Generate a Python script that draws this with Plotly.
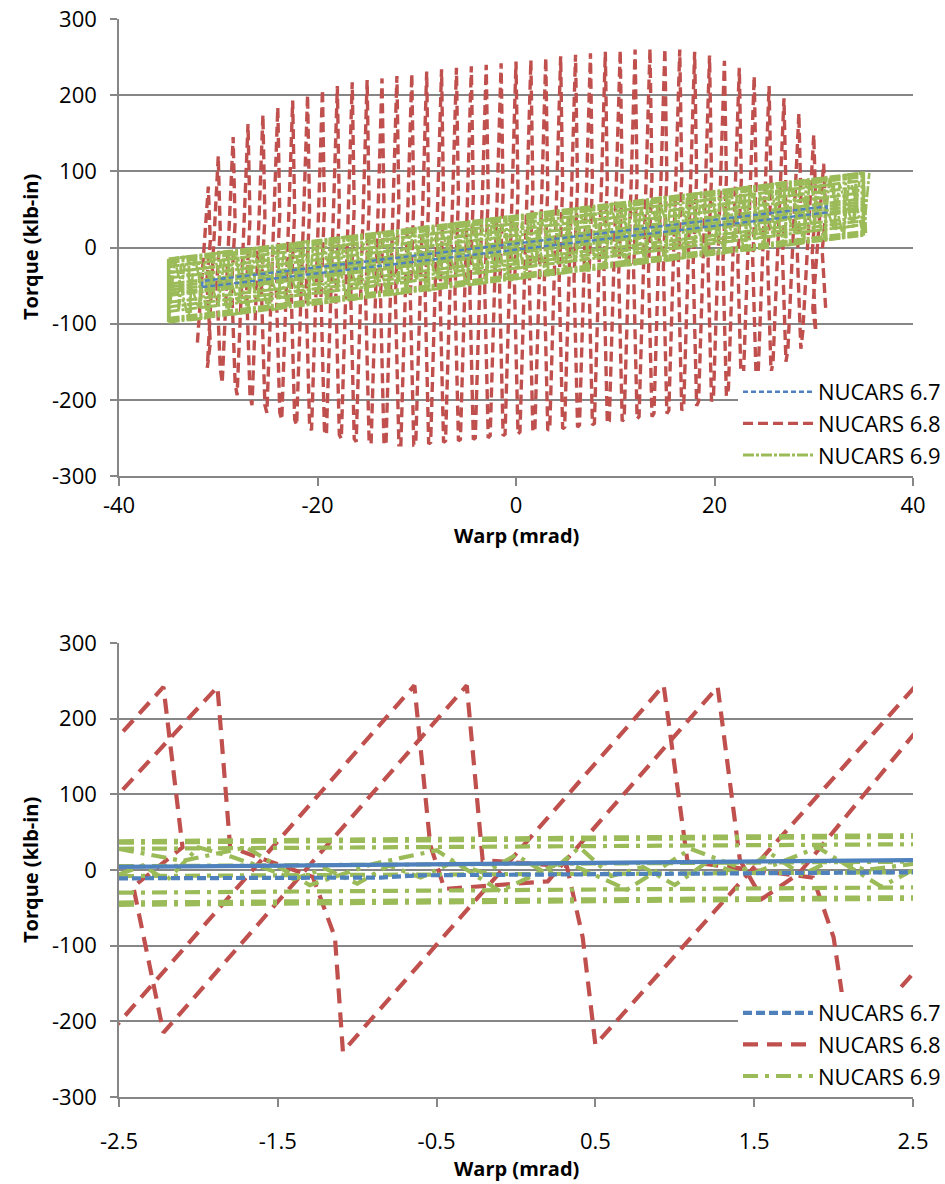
import plotly.graph_objects as go

RED = "#C0504D"
BLUE = "#4F81BD"
GREEN = "#9BBB59"
GRID = "#868686"
FONT = "Open Sans"

# ====================== TOP CHART (full warp range) ======================
top_xticks = [-40, -20, 0, 20, 40]
top_xtext = ["-40", "-20", "0", "20", "40"]
yticks = [-300, -200, -100, 0, 100, 200, 300]
ytext = ["-300", "-200", "-100", "0", "100", "200", "300"]

# NUCARS 6.8 : stick-slip columns (peak warp, upper / lower torque envelope)
red_col_warp = [-31, -30, -28.5, -27, -25.5, -24, -22.5, -21, -19.5, -18, -16.5, -15, -13.5, -12,
                -10.5, -9, -7.5, -6, -4.5, -3, -1.5, 0, 1.5, 3, 4.5, 6, 7.5, 9, 10.5, 12, 13.5,
                15, 16.5, 18, 19.5, 21, 22.5, 24, 25.5, 27, 28.5, 30, 31]
red_col_top = [80, 120, 145, 162, 174, 184, 193, 200, 207, 212, 217, 220, 222, 225, 228, 231, 234,
               236, 238, 240, 242, 244, 246, 249, 251, 253, 255, 257, 259, 260, 261, 261, 260, 257,
               252, 245, 236, 225, 212, 196, 176, 148, 110]
red_col_bot = [-125, -158, -178, -194, -207, -217, -226, -233, -240, -246, -251, -255, -258, -259,
               -259, -258, -256, -254, -252, -250, -247, -245, -242, -240, -238, -236, -233, -231,
               -228, -225, -222, -218, -214, -208, -202, -195, -186, -176, -165, -150, -133, -110, -80]
red_rise = 1.1     # warp advance during torque build-up (mrad)
red_slip = 0.2     # warp advance during slip (mrad)
red_jog = 0.35     # lateral wobble during slip (mrad)

# NUCARS 6.9 : band columns (warp, upper / lower torque)
green_col_warp = [-35, -33, -31, -29, -27, -25, -23, -21, -19, -17, -15, -13, -11, -9, -7, -5, -3, -1,
                  1, 3, 5, 7, 9, 11, 13, 15, 17, 19, 21, 23, 25, 27, 29, 31, 33, 35]
green_col_top = [-15, -12, -9, -5, -2, 1, 4, 8, 11, 14, 17, 20, 24, 27, 30, 33, 37, 40, 43, 46, 49,
                 53, 56, 59, 62, 66, 69, 72, 75, 78, 82, 85, 88, 91, 95, 98]
green_col_bot = [-98, -95, -92, -88, -85, -82, -78, -75, -72, -69, -65, -62, -59, -56, -52, -49, -46,
                 -43, -39, -36, -33, -30, -26, -23, -20, -17, -13, -10, -7, -4, 0, 3, 6, 10, 13, 16]
green_core_warp = [-34, -32, -30, -28, -26, -24, -22, -20, -18, -16, -14, -12, -10, -8, -6, -4, -2, 0,
                   2, 4, 6, 8, 10, 12, 14, 16, 18, 20, 22, 24, 26, 28, 30, 32, 34]
green_core_top = [-23, -20, -17, -14, -10, -7, -4, -1, 2, 6, 9, 12, 15, 19, 22, 25, 28, 32, 35, 38,
                  41, 44, 48, 51, 54, 57, 61, 64, 67, 70, 74, 77, 80, 83, 87]
green_core_bot = [-82, -79, -76, -73, -69, -66, -63, -60, -56, -53, -50, -47, -43, -40, -37, -34, -30,
                  -27, -24, -20, -17, -14, -11, -7, -4, -1, 2, 6, 9, 12, 15, 19, 22, 25, 28]
# straight passes across the band: torque at warp -35 and at warp +35
green_pass_warp = [-35, 35]
green_pass_start = [-15, -17, -20, -25, -33, -40, -48, -52, -56, -60, -63, -72, -78, -84, -93, -96, -98]
green_pass_end = [98, 96, 93, 88, 80, 72, 64, 60, 56, 52, 49, 40, 35, 30, 21, 18, 16]
# band ends (turn-around at maximum warp)
green_end_warp = [-35, -35, None, 35, 35]
green_end_torque = [-15, -98, None, 98, 16]

# NUCARS 6.7 : thin hysteresis loop
blue_top_warp = [-31.6, 31.3, 31.3, -31.6, -31.6]
blue_top_torque = [-52, 46, 54, -44, -52]

# ====================== BOTTOM CHART (zoom -2.5..2.5 mrad) ======================
bot_xticks = [-2.5, -1.5, -0.5, 0.5, 1.5, 2.5]
bot_xtext = ["-2.5", "-1.5", "-0.5", "0.5", "1.5", "2.5"]

red_a_warp = [-4.3, -2.22, -2.10, -2.41, -2.22, -0.31, -0.21, 0.32, 0.42, 0.50, 2.52, 2.60]
red_a_torque = [-240, 242, 30, -22, -215, 244, 13, 5, -89, -231, 244, 40]
red_b_warp = [-3.5, -2.5, -1.88, -1.80, -1.28, -1.14, -1.09, 0.93, 1.08, 1.87, 2.0, 2.10, 2.70]
red_b_torque = [-127, 101, 242, 30, -9, -89, -240, 244, 11, -10, -89, -231, -90]
red_c_warp = [-2.66, -0.64, -0.54, -0.45, 0.20, 0.315, 1.27, 1.41, 1.55, 1.78, 2.5, 2.78]
red_c_torque = [-240, 244, 33, -25, -15, 13, 242, 13, -38, -5, 178, 244]

green_b_pass_warp = [-2.5, 2.5]
green_b_pass_start = [38, 36, 28, 5, -8, -30, -43, -46]
green_b_pass_end = [46, 44, 34, 11, -3, -23, -36, -38]
green_b_wig_warp = [-2.5, -2.35, -2.2, -2.0, -1.8, -1.6, -1.4, -1.2, -1.0, -0.8, -0.6, -0.4, -0.2,
                    0.0, 0.2, 0.4, 0.6, 0.8, 1.0, 1.2, 1.4, 1.6, 1.8, 2.0, 2.2, 2.5]
green_b_wig_torque = [-6, 6, -14, 30, 18, 4, -12, 2, -18, 6, -10, 10, -4, 20, -6, 30, -8, 4, -20,
                      10, -4, 22, -6, 14, 0, 8]
green_b_wig2_warp = [-2.5, -2.1, -1.7, -1.3, -0.9, -0.5, -0.1, 0.3, 0.7, 1.1, 1.5, 1.9, 2.3, 2.5]
green_b_wig2_torque = [28, 12, 30, -20, 8, 26, -28, 12, -26, 28, -4, 30, -22, 0]

blue_b_up_warp = [-2.5, 2.5]
blue_b_up_torque = [4, 13]
blue_b_low_warp = [-2.5, -0.85, -0.6, 2.5]
blue_b_low_torque = [-11, -10, -7, -3]


# ---------------- helpers to assemble paths ----------------
def sawtooth_columns(xs, tops, bots, rise, slip, jog):
    px, py = [], []
    for x, t, b in zip(xs, tops, bots):
        h = t - b
        px += [x - rise, x, x + slip, x - jog + slip, x + slip]
        py += [b, t, t - 0.35 * h, t - 0.6 * h, b]
    return px, py


def square_wave(xs, tops, bots, step):
    px, py = [], []
    for i, (x, t, b) in enumerate(zip(xs, tops, bots)):
        px += [x, x + step]
        py += [b, t] if i % 2 == 0 else [t, b]
    return px, py


def zigzag(xs, tops, bots, step):
    px, py = [], []
    for x, t, b in zip(xs, tops, bots):
        px += [x, x + step]
        py += [b, t]
    return px, py


def passes(xpair, starts, ends):
    px, py = [], []
    for s, e in zip(starts, ends):
        px += [xpair[0], xpair[1], None]
        py += [s, e, None]
    return px, py


fig = go.Figure()

# ---------------- top traces ----------------
TW = 3.0
gdash = "11px,2px,3px,2px"
rx, ry = sawtooth_columns(red_col_warp, red_col_top, red_col_bot, red_rise, red_slip, red_jog)
fig.add_trace(go.Scatter(x=rx, y=ry, mode="lines", name="NUCARS 6.8", legendrank=2,
                         line=dict(color=RED, width=3.4, dash="10px,5px"),
                         legend="legend", xaxis="x", yaxis="y"))
gx, gy = passes(green_pass_warp, green_pass_start, green_pass_end)
fig.add_trace(go.Scatter(x=gx, y=gy, mode="lines", name="NUCARS 6.9", legendrank=3,
                         line=dict(color=GREEN, width=TW, dash=gdash),
                         legend="legend", xaxis="x", yaxis="y"))
fig.add_trace(go.Scatter(x=green_end_warp, y=green_end_torque, mode="lines", showlegend=False,
                         line=dict(color=GREEN, width=3.5), xaxis="x", yaxis="y"))
for (cx, ct, cb) in ((green_col_warp, green_col_top, green_col_bot),
                     (green_core_warp, green_core_top, green_core_bot)):
    sx, sy = square_wave(cx, ct, cb, 0.25)
    fig.add_trace(go.Scatter(x=sx, y=sy, mode="lines", showlegend=False,
                             line=dict(color=GREEN, width=TW, dash=gdash), xaxis="x", yaxis="y"))
    zx, zy = zigzag(cx, ct, cb, 0.6)
    fig.add_trace(go.Scatter(x=zx, y=zy, mode="lines", showlegend=False,
                             line=dict(color=GREEN, width=2.6, dash=gdash), xaxis="x", yaxis="y"))
fig.add_trace(go.Scatter(x=blue_top_warp, y=blue_top_torque, mode="lines", name="NUCARS 6.7",
                         legendrank=1, line=dict(color=BLUE, width=2.4, dash="5px,3px"),
                         legend="legend", xaxis="x", yaxis="y"))

# ---------------- bottom traces ----------------
BW = 4.2
first = True
for wx, wy in ((red_a_warp, red_a_torque), (red_b_warp, red_b_torque), (red_c_warp, red_c_torque)):
    fig.add_trace(go.Scatter(x=wx, y=wy, mode="lines", name="NUCARS 6.8", showlegend=first,
                             legendrank=2, line=dict(color=RED, width=BW, dash="15px,9px"),
                             legend="legend2", xaxis="x2", yaxis="y2"))
    first = False
gdash2 = "15px,7px,4px,7px"
bx, by = passes(green_b_pass_warp, green_b_pass_start, green_b_pass_end)
fig.add_trace(go.Scatter(x=bx, y=by, mode="lines", name="NUCARS 6.9", legendrank=3,
                         line=dict(color=GREEN, width=BW, dash=gdash2),
                         legend="legend2", xaxis="x2", yaxis="y2"))
for wx, wy in ((green_b_wig_warp, green_b_wig_torque), (green_b_wig2_warp, green_b_wig2_torque)):
    fig.add_trace(go.Scatter(x=wx, y=wy, mode="lines", showlegend=False,
                             line=dict(color=GREEN, width=BW, dash=gdash2), xaxis="x2", yaxis="y2"))
fig.add_trace(go.Scatter(x=blue_b_low_warp, y=blue_b_low_torque, mode="lines", name="NUCARS 6.7",
                         legendrank=1, line=dict(color=BLUE, width=BW, dash="9px,4px"),
                         legend="legend2", xaxis="x2", yaxis="y2"))
fig.add_trace(go.Scatter(x=blue_b_up_warp, y=blue_b_up_torque, mode="lines", showlegend=False,
                         line=dict(color=BLUE, width=BW), xaxis="x2", yaxis="y2"))

# ---------------- layout ----------------
W, H = 945, 1184
XD = [119 / W, 913 / W]
TOP_D = [1 - 476 / H, 1 - 19 / H]
BOT_D = [1 - 1097 / H, 1 - 643 / H]
TICKFONT = dict(family=FONT, size=22, color="black")
TITLEFONT = dict(family=FONT, size=20, color="black")

axis_common = dict(showline=True, linecolor=GRID, linewidth=1.5, ticks="outside", tickcolor=GRID,
                   tickwidth=1.5, zeroline=False, tickfont=TICKFONT)
yax = dict(axis_common, range=[-300, 300], tickvals=yticks, ticktext=ytext, ticklen=7,
           showgrid=True, gridcolor=GRID, gridwidth=1.5, ticklabelstandoff=9)

legend_common = dict(bgcolor="white", borderwidth=0, font=dict(family=FONT, size=22, color="black"),
                     itemwidth=70, xanchor="left", yanchor="bottom", x=738 / W)


def title(text, x, y, angle=0):
    return dict(text="<b>%s</b>" % text, x=x / W, y=1 - y / H, xref="paper", yref="paper",
                xanchor="center", yanchor="middle", textangle=angle, showarrow=False,
                font=TITLEFONT)


fig.update_layout(
    width=W, height=H, margin=dict(l=0, r=0, t=0, b=0, autoexpand=False),
    paper_bgcolor="white", plot_bgcolor="white",
    font=dict(family=FONT, size=22, color="black"),
    xaxis=dict(axis_common, domain=XD, anchor="y", range=[-40, 40], tickvals=top_xticks,
               ticktext=top_xtext, ticklen=8, showgrid=False, ticklabelstandoff=1),
    yaxis=dict(yax, domain=TOP_D, anchor="x"),
    xaxis2=dict(axis_common, domain=XD, anchor="y2", range=[-2.5, 2.5], tickvals=bot_xticks,
                ticktext=bot_xtext, ticklen=8, showgrid=False, ticklabelstandoff=16),
    yaxis2=dict(yax, domain=BOT_D, anchor="x2"),
    legend=dict(legend_common, y=1 - 476 / H),
    legend2=dict(legend_common, y=1 - 1097 / H),
    annotations=[
        title("Torque (klb-in)", 30, 247, -90),
        title("Warp (mrad)", 516, 536),
        title("Torque (klb-in)", 30, 870, -90),
        title("Warp (mrad)", 516, 1168),
    ],
)

fig.write_html("out.html")
